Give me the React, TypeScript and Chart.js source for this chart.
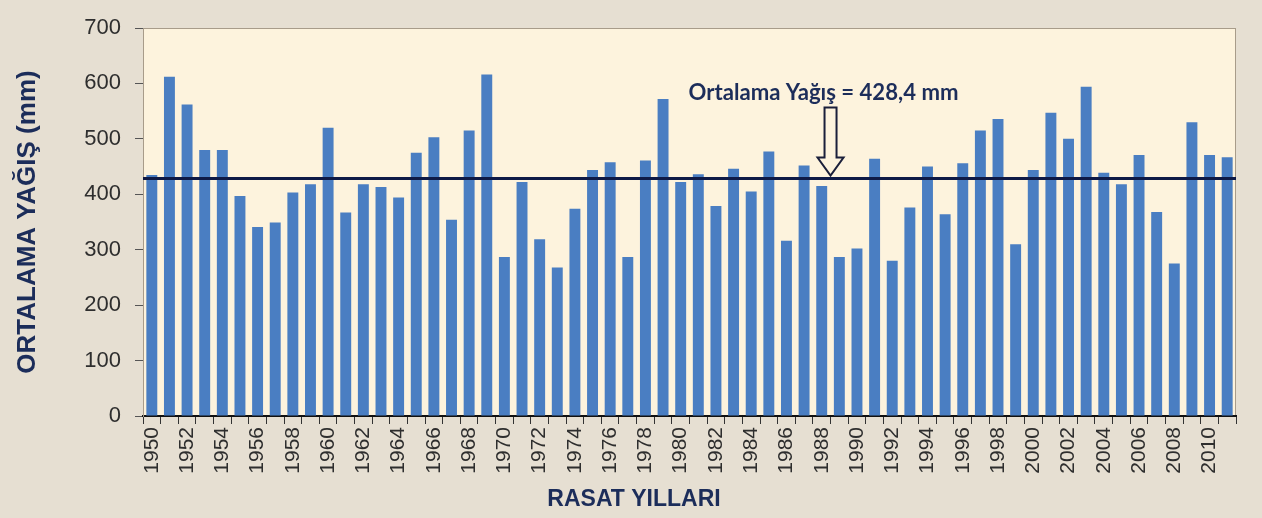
import React, { useEffect, useRef } from "react";
import { Chart, registerables } from "chart.js";

Chart.register(...registerables);

const years: string[] = [];
for (let y = 1950; y <= 2011; y++) years.push(String(y));

const rainfall: number[] = [
  435, 612, 562, 480, 480, 397, 341, 349, 403, 418,
  520, 367, 418, 413, 394, 475, 503, 354, 515, 616,
  287, 422, 319, 268, 374, 444, 458, 287, 461, 572,
  422, 436, 379, 446, 405, 477, 316, 452, 415, 287,
  302, 464, 280, 376, 450, 364, 456, 515, 536, 310,
  444, 547, 500, 594, 439, 418, 471, 368, 275, 530,
  471, 467,
];

const meanValue = 428.4;
const meanLabel = "Ortalama Yağış = 428,4 mm";
const yTitle = "ORTALAMA YAĞIŞ (mm)";
const xTitle = "RASAT YILLARI";

const NAVY = "#1c2d5a";

const decorPlugin = {
  id: "decor",
  beforeDraw(chart: any) {
    const { ctx, chartArea, width, height } = chart;
    ctx.save();
    ctx.fillStyle = "#e6dfd2";
    ctx.fillRect(0, 0, width, height);
    ctx.fillStyle = "#fdf3dd";
    ctx.fillRect(chartArea.left, chartArea.top, chartArea.right - chartArea.left, chartArea.bottom - chartArea.top);
    ctx.strokeStyle = "#a89c8a";
    ctx.lineWidth = 1;
    ctx.strokeRect(chartArea.left + 0.5, chartArea.top + 0.5, chartArea.right - chartArea.left - 1, chartArea.bottom - chartArea.top);
    ctx.restore();
  },
  afterDatasetsDraw(chart: any) {
    const { ctx, chartArea, scales } = chart;
    const ys = scales.y;
    const xs = scales.x;
    const my = ys.getPixelForValue(meanValue);
    ctx.save();
    // mean line
    ctx.strokeStyle = "#0e1a46";
    ctx.lineWidth = 3;
    ctx.beginPath();
    ctx.moveTo(chartArea.left, my);
    ctx.lineTo(chartArea.right, my);
    ctx.stroke();

    // arrow
    const ax = (xs.getPixelForValue(38) + xs.getPixelForValue(39)) / 2;
    const tipY = my - 3;
    const topY = my - 71;
    const shaftBottom = my - 21;
    const sw = 6;
    const hw = 13;
    ctx.beginPath();
    ctx.moveTo(ax - sw, topY);
    ctx.lineTo(ax + sw, topY);
    ctx.lineTo(ax + sw, shaftBottom);
    ctx.lineTo(ax + hw, shaftBottom);
    ctx.lineTo(ax, tipY);
    ctx.lineTo(ax - hw, shaftBottom);
    ctx.lineTo(ax - sw, shaftBottom);
    ctx.closePath();
    ctx.fillStyle = "#fdf3dd";
    ctx.fill();
    ctx.strokeStyle = "#1a1f3a";
    ctx.lineWidth = 2;
    ctx.stroke();

    // label
    let size = 24;
    ctx.font = `bold ${size}px Lato, "Open Sans", sans-serif`;
    const target = 270;
    const w = ctx.measureText(meanLabel).width;
    size = (size * target) / w;
    ctx.font = `bold ${size}px Lato, "Open Sans", sans-serif`;
    ctx.fillStyle = NAVY;
    ctx.textAlign = "center";
    ctx.textBaseline = "middle";
    ctx.fillText(meanLabel, ax - 7, my - 86);

    // x title
    ctx.font = `bold 23px "Liberation Sans", Arial, sans-serif`;
    ctx.fillStyle = NAVY;
    ctx.textAlign = "center";
    ctx.textBaseline = "middle";
    ctx.fillText(xTitle, 634, 500);
    ctx.restore();
  },
};

export default function App() {
  const ref = useRef<HTMLCanvasElement | null>(null);
  useEffect(() => {
    if (!ref.current) return;
    const chart = new Chart(ref.current, {
      type: "bar",
      data: {
        labels: years,
        datasets: [
          {
            data: rainfall,
            backgroundColor: "#4a7ec2",
            barPercentage: 0.62,
            categoryPercentage: 1,
          },
        ],
      },
      options: {
        animation: false,
        responsive: false,
        devicePixelRatio: 1,
        layout: { padding: { top: 28, right: 26, left: 0, bottom: 0 } },
        plugins: { legend: { display: false }, tooltip: { enabled: false } },
        scales: {
          x: {
            grid: { display: true, drawOnChartArea: false, drawTicks: true, tickLength: 8, color: "#333", offset: true },
            border: { display: true, color: "#111", width: 2 },
            ticks: {
              autoSkip: false,
              maxRotation: 90,
              minRotation: 90,
              padding: 3,
              color: "#2e2e2e",
              font: { size: 21, family: '"Liberation Sans", Arial, sans-serif' },
              callback: (_v: any, i: number) => (i % 2 === 0 ? years[i] : ""),
            },
            afterFit: (s: any) => {
              s.height = 102;
            },
          },
          y: {
            min: 0,
            max: 700,
            grid: { display: true, drawOnChartArea: false, drawTicks: true, tickLength: 8, color: "#555" },
            border: { display: true, color: "#a89c8a", width: 1 },
            ticks: {
              stepSize: 100,
              padding: 14,
              color: "#2e2e2e",
              font: { size: 22, family: '"Liberation Sans", Arial, sans-serif' },
            },
            title: {
              display: true,
              text: yTitle,
              color: NAVY,
              padding: { top: 12, bottom: 0 },
              font: { size: 26, weight: "bold", family: '"Liberation Sans", Arial, sans-serif' },
            },
            afterFit: (s: any) => {
              s.width = 143;
            },
          },
        },
      } as any,
      plugins: [decorPlugin],
    });
    return () => chart.destroy();
  }, []);
  return (
    <div style={{ position: "fixed", left: 0, top: 0, width: 1262, height: 518 }}>
      <canvas ref={ref} width={1262} height={518} style={{ display: "block" }} />
    </div>
  );
}
